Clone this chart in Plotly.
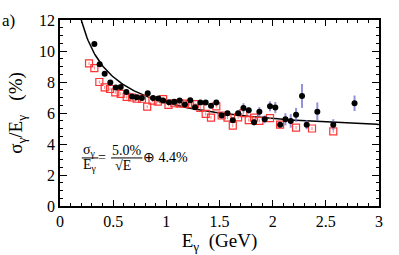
import numpy as np
import plotly.graph_objects as go

# Black filled circles (with error bars)
black_E = [0.323, 0.373, 0.42, 0.473, 0.524, 0.571, 0.624, 0.677, 0.721, 0.77, 0.825, 0.875,
           0.925, 0.97, 1.025, 1.075, 1.125, 1.175, 1.225, 1.27, 1.32, 1.37, 1.42, 1.47, 1.52,
           1.575, 1.625, 1.675, 1.725, 1.775, 1.825, 1.875, 1.925, 1.975, 2.025, 2.07, 2.12,
           2.17, 2.22, 2.276, 2.32, 2.42, 2.57, 2.77]
black_res = [10.45, 9.14, 8.53, 7.96, 7.65, 7.67, 7.35, 7.06, 7.02, 6.96, 7.27, 6.97,
             6.94, 6.8, 6.7, 6.73, 6.8, 6.55, 6.82, 6.37, 6.68, 6.68, 6.47, 6.68, 5.84,
             5.99, 5.54, 5.99, 6.33, 6.17, 5.4, 6.08, 5.59, 6.43, 6.35, 5.25, 5.59,
             5.49, 5.88, 7.1, 5.25, 6.08, 5.25, 6.63]
black_err = [0.08, 0.08, 0.08, 0.08, 0.08, 0.08, 0.08, 0.08, 0.08, 0.08, 0.08, 0.08,
             0.08, 0.08, 0.08, 0.08, 0.1, 0.1, 0.1, 0.1, 0.12, 0.12, 0.15, 0.17, 0.1,
             0.15, 0.17, 0.15, 0.3, 0.2, 0.2, 0.3, 0.25, 0.32, 0.36, 0.15, 0.39,
             0.44, 0.45, 0.77, 0.3, 0.6, 0.35, 0.5]

# Red open squares
red_E = [0.273, 0.323, 0.37, 0.42, 0.47, 0.52, 0.571, 0.627, 0.677, 0.721, 0.771, 0.82,
         0.87, 0.92, 0.97, 1.02, 1.075, 1.125, 1.175, 1.22, 1.27, 1.32, 1.37, 1.42, 1.47,
         1.52, 1.575, 1.625, 1.675, 1.725, 1.775, 1.825, 1.875, 1.975, 2.07, 2.22, 2.37, 2.57]
red_res = [9.2, 8.9, 8.0, 7.65, 7.55, 7.33, 7.24, 7.04, 7.0, 6.92, 6.92, 6.41,
           6.8, 6.74, 6.9, 6.53, 6.63, 6.6, 6.6, 6.57, 6.57, 6.33, 5.94, 5.7, 6.43,
           5.84, 5.7, 5.18, 5.72, 5.99, 5.54, 5.7, 5.49, 5.67, 5.25, 5.06, 5.0, 4.82]

# Fit: sigma/E = a/sqrt(E) (+) b
fit_a = 5.0
fit_b = 4.4
fit_E = np.linspace(0.15, 3.0, 300)
fit_res = np.sqrt((fit_a / np.sqrt(fit_E)) ** 2 + fit_b ** 2)

serif = "'Liberation Serif', 'Times New Roman', Times, serif"

fig = go.Figure()
fig.add_trace(go.Scatter(x=fit_E, y=fit_res, mode="lines",
                         line=dict(color="black", width=1.5), hoverinfo="skip"))
fig.add_trace(go.Scatter(x=red_E, y=red_res, mode="markers",
                         marker=dict(symbol="square-open", size=7, color="#ff3333",
                                     line=dict(width=1.2, color="#ff3333")),
                         error_y=dict(type="constant", value=0.1, color="#ff8080",
                                      thickness=1, width=0)))
fig.add_trace(go.Scatter(x=black_E, y=black_res, mode="markers",
                         marker=dict(symbol="circle", size=6, color="black"),
                         error_y=dict(type="data", array=black_err, color="rgba(110,110,205,0.75)",
                                      thickness=2, width=0)))

axis_common = dict(showline=True, linecolor="black", linewidth=1.5, mirror="ticks",
                   ticks="inside", tickcolor="black", showgrid=False, zeroline=False,
                   tickfont=dict(family=serif, size=16, color="black"))

fig.update_xaxes(range=[0, 3], ticklen=6, tickwidth=1,
                 minor=dict(dtick=0.1, ticks="inside", ticklen=3, tickcolor="black"),
                 title=dict(text="E<sub>γ</sub>  (GeV)", standoff=0,
                            font=dict(family=serif, size=19, color="black")),
                 tickvals=[0, 0.5, 1, 1.5, 2, 2.5, 3], ticktext=["0", "0.5", "1", "1.5", "2", "2.5", "3"],
                 **axis_common)
fig.update_yaxes(range=[0, 12], dtick=2, ticklen=7, tickwidth=1,
                 minor=dict(dtick=0.5, ticks="inside", ticklen=3, tickcolor="black"),
                 title=dict(text="σ<sub>γ</sub>/E<sub>γ</sub>   (%)", standoff=11,
                            font=dict(family=serif, size=19, color="black")),
                 **axis_common)

ann_font = dict(family=serif, size=14, color="black")
annotations = [
    dict(text="a)", xref="paper", yref="paper", x=-0.16, y=1.0, xanchor="center", yanchor="middle",
         showarrow=False, font=dict(family=serif, size=17, color="black")),
    dict(text="σ<sub>γ</sub>", x=0.282, y=3.6, showarrow=False, font=ann_font),
    dict(text="E<sub>γ</sub>", x=0.282, y=2.6, showarrow=False, font=ann_font),
    dict(text="=", x=0.395, y=3.1, showarrow=False, font=ann_font),
    dict(text="5.0%", x=0.63, y=3.6, showarrow=False, font=ann_font),
    dict(text="√E", x=0.59, y=2.6, showarrow=False, font=ann_font),
    dict(text="⊕ 4.4%", x=0.99, y=3.1, showarrow=False, font=ann_font),
]
shapes = [
    dict(type="line", x0=0.205, x1=0.36, y0=3.1, y1=3.1, line=dict(color="black", width=1)),
    dict(type="line", x0=0.48, x1=0.775, y0=3.1, y1=3.1, line=dict(color="black", width=1)),
]

fig.update_layout(width=399, height=255, margin=dict(l=60, r=20, t=12, b=39),
                  paper_bgcolor="white", plot_bgcolor="white", showlegend=False,
                  font=dict(family=serif),
                  annotations=annotations, shapes=shapes)

fig.write_html("out.html", config={"displayModeBar": False},
               post_script="document.body.style.margin='0';document.body.style.overflow='hidden';")
